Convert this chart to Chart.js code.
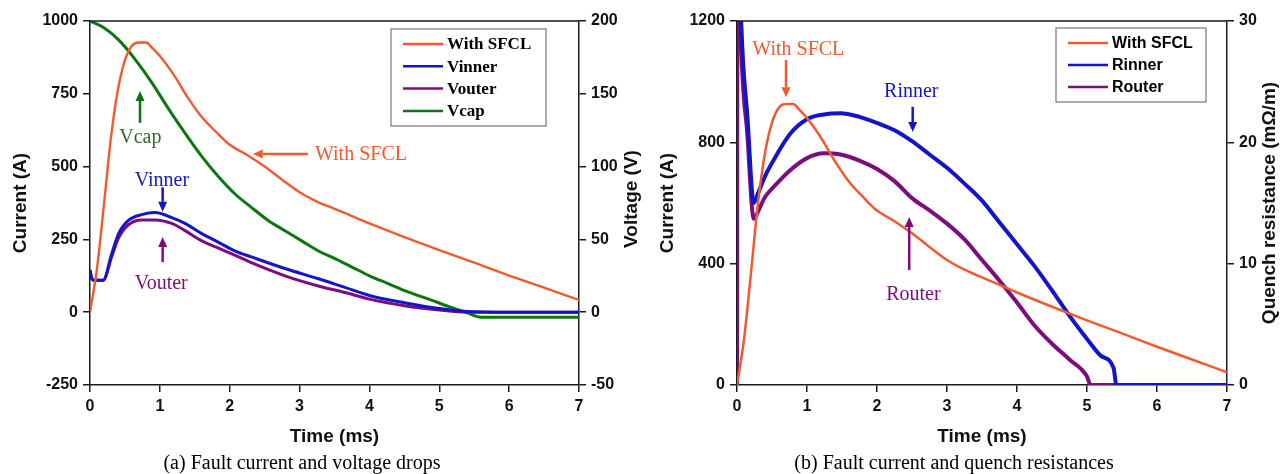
<!DOCTYPE html>
<html>
<head>
<meta charset="utf-8">
<script src="https://cdn.jsdelivr.net/npm/chart.js@4.4.1/dist/chart.umd.min.js"></script>
<style>
html,body{margin:0;padding:0;background:#fff;}
body{width:1287px;height:474px;position:relative;overflow:hidden;}
canvas{position:absolute;top:0;}
#chartA{left:0;}
#chartB{left:648px;}
.caption{position:absolute;top:451px;line-height:23px;font-family:"Liberation Serif","Times New Roman",serif;font-size:20px;color:#000;transform:translateX(-50%);white-space:nowrap;}
</style>
</head>
<body>
<canvas id="chartA" width="648" height="452"></canvas>
<canvas id="chartB" width="639" height="452"></canvas>
<div class="caption" style="left:302px">(a) Fault current and voltage drops</div>
<div class="caption" style="left:954px">(b) Fault current and quench resistances</div>
<script>
// tick labels
const timeTicks = [0,1,2,3,4,5,6,7];
const currentTicksA = [-250,0,250,500,750,1000];
const voltageTicks = [-50,0,50,100,150,200];
const currentTicksB = [0,400,800,1200];
const resistTicks = [0,10,20,30];

// fault current with SFCL (A) vs time (ms)
const tSfcl = [0,0.1,0.2,0.3,0.4,0.5,0.6,0.7,0.8,0.9,1.0,1.2,1.4,1.6,1.8,2.0,2.25,2.5,2.75,3.0,3.25,3.5,3.75,4.0,4.5,5.0,5.5,6.0,6.5,7.0];
const iSfcl = [0,150,370,600,765,865,915,926,926,905,880,815,737,670,620,575,540,500,455,412,380,355,330,305,258,213,170,126,84,42];

// voltage drops (V)
const tVolt = [0,0.02,0.05,0.19,0.31,0.41,0.55,0.74,0.93,1.17,1.36,1.6,1.84,2.08,2.31,2.79,3.27,3.65,4.0,4.5,5.0,5.4,6.0,7.0];
const vInner = [29,24,22,22,40,54,63,67,68.4,65,61,54,48,42,38,30,23,17,11.5,6.5,2.5,0.5,0,0];
const vOuter = [29,24,22,22,38,51,60,63.4,63.4,61,56,49,44,39,34,25,18,13.5,9,4.5,1.5,0,0,0];
const tCap = [0,0.21,0.41,0.64,0.88,1.12,1.36,1.6,1.84,2.08,2.31,2.55,2.79,3.03,3.27,3.5,3.75,4.0,4.25,4.55,4.85,5.13,5.4,5.6,7.0];
const vCap = [200,195,187,174,158,140,123,107,93,81,72,63,56,49,42,37,31,25,20,14,9,4,-0.5,-3.4,-3.4];

// quench resistances (mOhm/m)
const tRin = [0,0.06,0.15,0.24,0.3,0.4,0.52,0.76,1.0,1.24,1.48,1.75,2.0,2.25,2.5,2.75,3.0,3.25,3.5,3.75,4.0,4.25,4.5,4.75,5.0,5.2,5.38,5.42,7.0];
const rInner = [45,30,22,15,15.8,17.2,18.5,20.7,21.9,22.3,22.4,22.1,21.6,21.0,20.1,19.0,17.9,16.6,15.2,13.4,11.6,9.8,7.8,5.7,3.8,2.4,1.4,0,0];
const tRout = [0,0.01,0.05,0.15,0.24,0.3,0.4,0.52,0.76,1.0,1.24,1.48,1.75,2.0,2.25,2.5,2.75,3.0,3.25,3.5,3.75,4.0,4.25,4.5,4.75,5.0,5.05,7.0];
const rOuter = [0,45,30,20.5,13.7,14.3,15.5,16.3,17.7,18.7,19.1,19.0,18.5,17.8,16.8,15.4,14.4,13.3,12.0,10.3,8.6,6.8,4.9,3.4,2.1,0.7,0,0];

const ORANGE = "#F15A2E", BLUE = "#1414C8", PURPLE = "#7D0C7D", GREEN = "#0E760E", GREEN_TXT = "#2F6A2F";
const AXIS = "#1a1a1a";
const SANS = '"Liberation Sans", Arial, sans-serif';
const SERIF = '"Liberation Serif", "Times New Roman", serif';
const TICK_FONT = {family:SANS, size:16, weight:"bold"};
const TITLE_FONT = {family:SANS, size:19, weight:"bold"};

const pts = (xs, ys) => xs.map((x,i)=>({x, y:ys[i]}));

function axis(pos, min, max, list, size, title){
  const a = {
    type:"linear", position:pos, min, max,
    afterBuildTicks: s => { s.ticks = list.map(v=>({value:v})); },
    afterFit: s => { if(pos==="bottom") s.height = size; else s.width = size; },
    grid:{drawOnChartArea:false, drawTicks:true, tickLength:7, color:AXIS, lineWidth:1.5},
    border:{display:true, color:AXIS, width:1.5},
    ticks:{font:TICK_FONT, color:"#111", padding:5, autoSkip:false, maxRotation:0, callback:v=>String(v)}
  };
  if(title) a.title = Object.assign({display:true, font:TITLE_FONT, color:"#111"}, title);
  return a;
}

function line(label, data, color, width, axisId){
  return {label, data, borderColor:color, backgroundColor:color, borderWidth:width, pointRadius:0, yAxisID:axisId, cubicInterpolationMode:"monotone"};
}

// top frame line + right axis title (reads bottom to top)
const framePlugin = {
  id:"frame",
  afterDraw(chart, args, opts){
    const {ctx, chartArea:a} = chart;
    ctx.save();
    ctx.strokeStyle = AXIS; ctx.lineWidth = 1.5;
    ctx.beginPath(); ctx.moveTo(a.left, a.top); ctx.lineTo(a.right, a.top); ctx.stroke();
    ctx.font = "bold 19px " + SANS; ctx.fillStyle = "#111";
    ctx.textAlign = "center"; ctx.textBaseline = "middle";
    ctx.translate(opts.x, (a.top + a.bottom)/2 + (opts.dy||0));
    ctx.rotate(-Math.PI/2);
    ctx.fillText(opts.text, 0, 0);
    ctx.restore();
  }
};

// boxed legend inside the plot
const boxLegend = {
  id:"boxLegend",
  afterDraw(chart, args, o){
    const ctx = chart.ctx;
    ctx.save();
    ctx.fillStyle = "#fff"; ctx.fillRect(o.x, o.y, o.w, o.h);
    ctx.strokeStyle = "#777"; ctx.lineWidth = 1.2; ctx.strokeRect(o.x, o.y, o.w, o.h);
    ctx.font = o.font; ctx.textBaseline = "middle"; ctx.textAlign = "left";
    chart.data.datasets.forEach((d,i)=>{
      const yy = o.y + o.first + i*o.rowH;
      ctx.strokeStyle = d.borderColor; ctx.lineWidth = 2.5;
      ctx.beginPath(); ctx.moveTo(o.x + 12, yy); ctx.lineTo(o.x + 52, yy); ctx.stroke();
      ctx.fillStyle = "#000"; ctx.fillText(d.label, o.x + 56, yy + 1);
    });
    ctx.restore();
  }
};

// text notes and arrows placed in data coordinates
const notesPlugin = {
  id:"notes",
  afterDatasetsDraw(chart, args, o){
    const {ctx, scales} = chart;
    const px = v => scales.x.getPixelForValue(v), py = v => scales.y.getPixelForValue(v);
    ctx.save();
    ctx.font = "20px " + SERIF; ctx.textBaseline = "middle";
    (o.texts||[]).forEach(n=>{
      ctx.fillStyle = n.color; ctx.textAlign = n.align || "center";
      ctx.fillText(n.text, px(n.x), py(n.y));
    });
    (o.arrows||[]).forEach(a=>{
      const x1 = px(a.from[0]), y1 = py(a.from[1]), x2 = px(a.to[0]), y2 = py(a.to[1]);
      const ang = Math.atan2(y2-y1, x2-x1), L = 10, W = 4.5;
      const bx = x2 - L*Math.cos(ang), by = y2 - L*Math.sin(ang);
      ctx.strokeStyle = a.color; ctx.fillStyle = a.color; ctx.lineWidth = 2.5;
      ctx.beginPath(); ctx.moveTo(x1, y1); ctx.lineTo(bx, by); ctx.stroke();
      ctx.beginPath();
      ctx.moveTo(x2, y2);
      ctx.lineTo(bx + W*Math.sin(ang), by - W*Math.cos(ang));
      ctx.lineTo(bx - W*Math.sin(ang), by + W*Math.cos(ang));
      ctx.closePath(); ctx.fill();
    });
    ctx.restore();
  }
};

const common = {
  responsive:false, animation:false, events:[],
  layout:{padding:{top:21, left:0, right:0, bottom:0}}
};

new Chart(document.getElementById("chartA"), {
  type:"line",
  data:{datasets:[
    line("With SFCL", pts(tSfcl, iSfcl), ORANGE, 2.4, "y"),
    line("Vinner", pts(tVolt, vInner), BLUE, 3, "y1"),
    line("Vouter", pts(tVolt, vOuter), PURPLE, 3, "y1"),
    line("Vcap", pts(tCap, vCap), GREEN, 3, "y1")
  ]},
  options:Object.assign({}, common, {
    scales:{
      x:axis("bottom", 0, 7, timeTicks, 67, {text:"Time (ms)", padding:{top:0, bottom:4}}),
      y:axis("left", -250, 1000, currentTicksA, 90, {text:"Current (A)", padding:{top:9, bottom:0}}),
      y1:axis("right", -50, 200, voltageTicks, 69)
    },
    plugins:{
      legend:{display:false}, tooltip:{enabled:false},
      frame:{x:632, text:"Voltage (V)", dy:-4},
      boxLegend:{x:391, y:29, w:155, h:97, first:15, rowH:22.3, font:"bold 17px " + SERIF},
      notes:{
        texts:[
          {text:"Vcap", x:0.72, y:598, color:GREEN_TXT},
          {text:"With SFCL", x:3.22, y:540, color:ORANGE, align:"left"},
          {text:"Vinner", x:1.03, y:450, color:BLUE},
          {text:"Vouter", x:1.02, y:99, color:PURPLE}
        ],
        arrows:[
          {from:[0.716,650], to:[0.716,760], color:GREEN},
          {from:[3.12,543], to:[2.33,543], color:ORANGE},
          {from:[1.04,429], to:[1.04,345], color:BLUE},
          {from:[1.04,172], to:[1.04,258], color:PURPLE}
        ]
      }
    }
  }),
  plugins:[framePlugin, boxLegend, notesPlugin]
});

new Chart(document.getElementById("chartB"), {
  type:"line",
  data:{datasets:[
    line("With SFCL", pts(tSfcl, iSfcl), ORANGE, 2.5, "y"),
    line("Rinner", pts(tRin, rInner), BLUE, 4, "y1"),
    line("Router", pts(tRout, rOuter), PURPLE, 4, "y1")
  ]},
  options:Object.assign({}, common, {
    scales:{
      x:axis("bottom", 0, 7, timeTicks, 67, {text:"Time (ms)", padding:{top:0, bottom:4}}),
      y:axis("left", 0, 1200, currentTicksB, 89, {text:"Current (A)", padding:{top:8, bottom:0}}),
      y1:axis("right", 0, 30, resistTicks, 60)
    },
    plugins:{
      legend:{display:false}, tooltip:{enabled:false},
      frame:{x:622, text:"Quench resistance (m\u03A9/m)"},
      boxLegend:{x:408, y:28, w:150, h:74, first:15, rowH:22, font:"bold 16px " + SANS},
      notes:{
        texts:[
          {text:"With SFCL", x:0.876, y:1104, color:ORANGE},
          {text:"Rinner", x:2.49, y:966, color:BLUE},
          {text:"Router", x:2.52, y:297, color:PURPLE}
        ],
        arrows:[
          {from:[0.70,1071], to:[0.70,949], color:ORANGE},
          {from:[2.51,917], to:[2.51,834], color:BLUE},
          {from:[2.46,379], to:[2.46,554], color:PURPLE}
        ]
      }
    }
  }),
  plugins:[framePlugin, boxLegend, notesPlugin]
});
</script>
</body>
</html>
